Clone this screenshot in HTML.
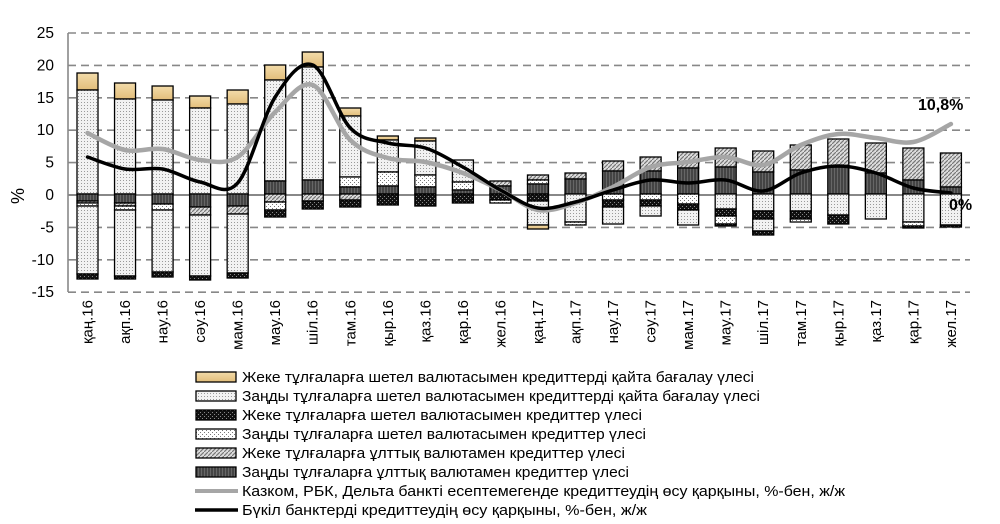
<!DOCTYPE html>
<html><head><meta charset="utf-8"><style>
body{margin:0;background:#fff}
svg{display:block;font-family:"Liberation Sans",sans-serif}
</style></head><body>
<svg id="s" width="1000" height="524" xmlns="http://www.w3.org/2000/svg">
<defs>
<pattern id="pB" width="3" height="3" patternUnits="userSpaceOnUse"><rect width="3" height="3" fill="#f2f2f2"/><rect width="1" height="1" fill="#9a9a9a"/></pattern>
<pattern id="pC" width="4" height="4" patternUnits="userSpaceOnUse"><rect width="4" height="4" fill="#fff"/><rect width="1" height="1" fill="#777"/><rect x="2" y="2" width="1" height="1" fill="#777"/></pattern>
<pattern id="pD" width="4" height="4" patternUnits="userSpaceOnUse"><rect width="4" height="4" fill="#111"/><rect width="1" height="1" fill="#888"/><rect x="2" y="2" width="1" height="1" fill="#888"/></pattern>
<pattern id="pE" width="4" height="4" patternUnits="userSpaceOnUse"><rect width="4" height="4" fill="#ddd"/><path d="M0 4L4 0" stroke="#777" stroke-width="1.2"/></pattern>
<pattern id="pF" width="3" height="3" patternUnits="userSpaceOnUse"><rect width="3" height="3" fill="#444"/><rect width="1" height="3" fill="#666"/></pattern>
<linearGradient id="gA" x1="0" y1="0" x2="0" y2="1"><stop offset="0" stop-color="#f3dcaa"/><stop offset="1" stop-color="#e2bd7a"/></linearGradient>
</defs>
<g id="g"></g>
</svg>
<script>
var g=document.getElementById('g'),NS='http://www.w3.org/2000/svg';
function el(t,a,txt){var e=document.createElementNS(NS,t);for(var k in a)e.setAttribute(k,a[k]);if(txt!=null)e.textContent=txt;g.appendChild(e);return e;}
for(var i=0;i<9;i++){var y=33+32.4*i;
 if(i==5){el('line',{x1:68,x2:970,y1:y,y2:y,stroke:'#888','stroke-width':2});}
 else el('line',{x1:68,x2:970,y1:y,y2:y,stroke:'#888','stroke-width':1.6,'stroke-dasharray':'8,5'});
 el('text',{x:54,y:y+5,'text-anchor':'end','font-size':15.5,fill:'#000'},String(25-5*i));}
el('line',{x1:68,x2:68,y1:33,y2:292,stroke:'#888','stroke-width':1.6});
el('text',{x:0,y:0,'font-size':18,transform:'translate(24,196) rotate(-90)','text-anchor':'middle'},'%');
var F={A:'url(#gA)',B:'url(#pB)',C:'url(#pC)',D:'url(#pD)',E:'url(#pE)',F:'url(#pF)'};
var bars=[
[[73,90,'A'],[90,194,'B'],[194,201,'F'],[201,203,'E'],[203,206,'C'],[206,274,'B'],[274,279,'D']],
[[83,99,'A'],[99,194,'B'],[194,203,'F'],[203,206,'E'],[206,210,'C'],[210,276,'B'],[276,279,'D']],
[[86,100,'A'],[100,194,'B'],[194,204,'F'],[204,210,'C'],[210,272,'B'],[272,277,'D']],
[[96,108,'A'],[108,194,'B'],[194,207,'F'],[207,215,'E'],[215,276,'B'],[276,280,'D']],
[[90,104,'A'],[104,194,'B'],[194,206,'F'],[206,214,'E'],[214,273,'B'],[273,278,'D']],
[[65,80,'A'],[80,181,'B'],[181,194,'F'],[194,202,'E'],[202,210,'C'],[210,217,'D']],
[[52,67,'A'],[67,180,'B'],[180,194,'F'],[194,201,'E'],[201,209,'D']],
[[108,116,'A'],[116,177,'B'],[177,187,'C'],[187,194,'F'],[194,200,'E'],[200,207,'D']],
[[136,140,'A'],[140,172,'B'],[172,186,'C'],[186,194,'F'],[194,205,'D']],
[[138,141,'A'],[141,175,'B'],[175,187,'C'],[187,194,'F'],[194,206,'D']],
[[160,182,'B'],[182,190,'C'],[190,194,'F'],[194,203,'D']],
[[181,186,'E'],[186,194,'F'],[194,200,'D'],[200,203,'C']],
[[175,180,'E'],[180,184,'C'],[184,194,'F'],[194,201,'D'],[201,225,'B'],[225,229,'A']],
[[173,179,'E'],[179,194,'F'],[194,222,'B'],[222,225,'C']],
[[161,171,'E'],[171,194,'F'],[194,200,'C'],[200,207,'D'],[207,224,'B']],
[[157,171,'E'],[171,194,'F'],[194,200,'C'],[200,206,'D'],[206,216,'B']],
[[152,168,'E'],[168,194,'F'],[194,204,'C'],[204,210,'D'],[210,225,'B']],
[[148,167,'E'],[167,194,'F'],[194,209,'B'],[209,216,'D'],[216,224,'C'],[224,226,'D']],
[[151,172,'E'],[172,194,'F'],[194,211,'B'],[211,219,'D'],[219,231,'B'],[231,235,'D']],
[[145,170,'E'],[170,194,'F'],[194,211,'B'],[211,219,'D'],[219,222,'C']],
[[139,167,'E'],[167,194,'F'],[194,215,'B'],[215,224,'D']],
[[143,173,'E'],[173,194,'F'],[194,219,'B']],
[[148,180,'E'],[180,194,'F'],[194,222,'B'],[222,226,'C'],[226,228,'D']],
[[153,187,'E'],[187,194,'F'],[194,225,'B'],[225,227,'D']]];
var labs=['қаң.16','ақп.16','нау.16','сәу.16','мам.16','мау.16','шіл.16','там.16','қыр.16','қаз.16','қар.16','жел.16','қаң.17','ақп.17','нау.17','сәу.17','мам.17','мау.17','шіл.17','там.17','қыр.17','қаз.17','қар.17','жел.17'];
function cx(i){return 87.5+37.54*i;}
bars.forEach(function(b,i){var x=cx(i)-10.5;
 b.forEach(function(s){el('rect',{x:x,y:s[0],width:21,height:s[1]-s[0],fill:F[s[2]],stroke:'#000','stroke-width':1.3});});
 el('text',{x:0,y:0,'font-size':15,'text-anchor':'end',transform:'translate('+(cx(i)+5)+',300) rotate(-90)'},labs[i]);});
function spline(p){var d='M'+p[0][0]+','+p[0][1];
 for(var i=0;i<p.length-1;i++){var p0=p[i-1]||p[i],p1=p[i],p2=p[i+1],p3=p[i+2]||p2;
  d+='C'+(p1[0]+(p2[0]-p0[0])/6)+','+(p1[1]+(p2[1]-p0[1])/6)+' '+(p2[0]-(p3[0]-p1[0])/6)+','+(p2[1]-(p3[1]-p1[1])/6)+' '+p2[0]+','+p2[1];}
 return d;}
var gy=[133,150,149,160,157,112,85,140,158,162,173,190,210,203,187,167,162,157,165,145,134,138,142,124];
var by=[157,169,169,182,183,97,65,128,143,148,167,190,208,202,190,180,183,180,191,173,166,173,188,193];
el('path',{d:spline(gy.map(function(v,i){return [cx(i),v];})),fill:'none',stroke:'#a6a6a6','stroke-width':4.5,'stroke-linecap':'round'});
el('path',{d:spline(by.map(function(v,i){return [cx(i),v];})),fill:'none',stroke:'#000','stroke-width':3.5,'stroke-linecap':'round'});
el('text',{x:918,y:110,'font-size':16,'font-weight':'bold'},'10,8%');
el('text',{x:949,y:210,'font-size':16,'font-weight':'bold'},'0%');
var L=[['A','Жеке тұлғаларға шетел валютасымен кредиттерді қайта бағалау үлесі',512],
['B','Заңды тұлғаларға шетел валютасымен кредиттерді қайта бағалау үлесі',518],
['D','Жеке тұлғаларға шетел валютасымен кредиттер үлесі',400],
['C','Заңды тұлғаларға шетел валютасымен кредиттер үлесі',404],
['E','Жеке тұлғаларға ұлттық валютамен кредиттер үлесі',383],
['F','Заңды тұлғаларға ұлттық валютамен кредиттер үлесі',387],
['G','Казком, РБК, Дельта банкті есептемегенде кредиттеудің өсу қарқыны, %-бен, ж/ж',603],
['K','Бүкіл банктерді кредиттеудің өсу қарқыны, %-бен, ж/ж',405]];
L.forEach(function(r,i){var y=377+19*i;
 if(r[0]=='G')el('line',{x1:195,x2:238,y1:y,y2:y,stroke:'#a6a6a6','stroke-width':4});
 else if(r[0]=='K')el('line',{x1:195,x2:238,y1:y,y2:y,stroke:'#000','stroke-width':3.5});
 else el('rect',{x:196,y:y-5,width:40,height:10,fill:F[r[0]],stroke:'#000','stroke-width':1.3});
 el('text',{x:242,y:y+5,'font-size':14.5,textLength:r[2],lengthAdjust:'spacingAndGlyphs'},r[1]);});
</script>
</body></html>
